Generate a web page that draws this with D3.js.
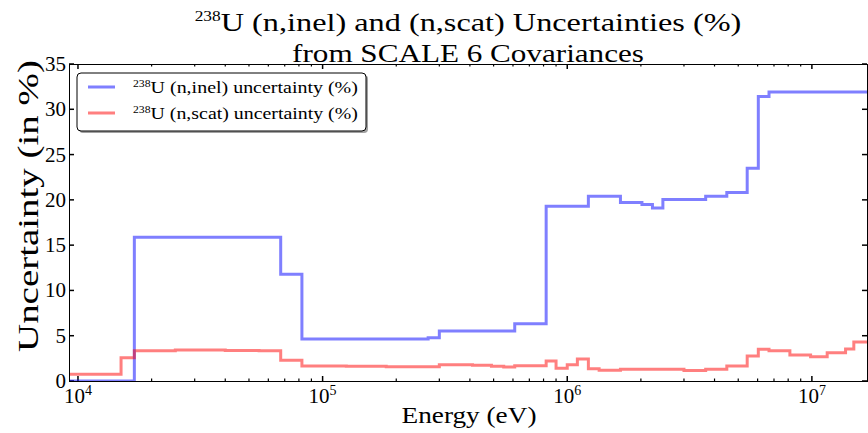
<!DOCTYPE html>
<meta charset="utf-8">
<style>

body {
  margin: 0;
  background: #fff;
}

text {
  font-family: "Liberation Serif", serif;
  fill: #000;
}

.tick-label {
  font-size: 21px;
}

.legend text {
  font-size: 17px;
}

</style>
<body>
<svg width="868" height="433"></svg>
</body>

<script src="https://d3js.org/d3.v7.min.js"></script>
<script>

// energy group boundaries (eV) and uncertainty (%)
var inelEdges = [9000, 1.7e4, 6.74e4, 8.23e4, 2.7e5, 3.0e5, 6.1e5, 8.2e5, 1.22e6, 1.65e6,
                 2.02e6, 2.23e6, 2.46e6, 3.68e6, 4.49e6, 5.44e6, 6.04e6, 6.68e6];
var inelValues = [0, 15.86, 11.78, 4.63, 4.78, 5.52, 6.33, 19.3, 20.4, 19.7,
                  19.5, 19.1, 20.05, 20.4, 20.8, 23.5, 31.4, 31.9];

var scatEdges = [9000, 1.5e4, 1.7e4, 2.5e4, 4.0e4, 5.5e4, 6.74e4, 8.23e4, 1.25e5, 1.82e5,
                 3.0e5, 4.1e5, 4.9e5, 5.5e5, 6.1e5, 8.2e5, 9.0e5, 1.0e6, 1.1e6, 1.22e6,
                 1.35e6, 1.65e6, 3.0e6, 3.68e6, 4.49e6, 5.44e6, 6.04e6, 6.68e6, 8.13e6, 9.88e6,
                 1.155e7, 1.373e7, 1.484e7];
var scatValues = [0.74, 2.57, 3.35, 3.42, 3.38, 3.35, 2.28, 1.66, 1.62, 1.58,
                  1.8, 1.73, 1.62, 1.55, 1.69, 2.2, 1.4, 1.8, 2.43, 1.35,
                  1.2, 1.3, 1.15, 1.3, 1.66, 2.76, 3.5, 3.35, 2.87, 2.68,
                  3.12, 3.53, 4.3];

var upperEdge = 2e7;
var xDomain = [9190, 1.68e7];
var yDomain = [0, 35];
var yTicks = [0, 5, 10, 15, 20, 25, 30, 35];
var xMajor = [1e4, 1e5, 1e6, 1e7];
var xExponents = ["4", "5", "6", "7"];

var series = [
  {name: "(n,inel) uncertainty (%)", edges: inelEdges, values: inelValues, color: "blue"},
  {name: "(n,scat) uncertainty (%)", edges: scatEdges, values: scatValues, color: "red"}
];

var svg = d3.select("svg"),
    margin = {top: 64, right: 1, bottom: 52, left: 69},
    width = +svg.attr("width") - margin.left - margin.right,
    height = +svg.attr("height") - margin.top - margin.bottom;

var x = d3.scaleLog().domain(xDomain).range([0, width]);
var y = d3.scaleLinear().domain(yDomain).range([height, 0]);

var g = svg.append("g")
    .attr("transform", "translate(" + margin.left + "," + margin.top + ")");

g.append("clipPath").attr("id", "clip")
  .append("rect").attr("width", width).attr("height", height);

var minor = [];
for (var p = 3; p <= 7; p++)
  for (var k = 2; k <= 9; k++) {
    var v = k * Math.pow(10, p);
    if (v > xDomain[0] && v < xDomain[1]) minor.push(v);
  }

// inward ticks on all four sides
function ticksX(sel, dir) {
  sel.selectAll(".maj").data(xMajor).enter().append("line")
      .attr("x1", x).attr("x2", x).attr("y1", 0).attr("y2", dir * 5)
      .attr("stroke", "#000").attr("stroke-width", 1.5);
  sel.selectAll(".min").data(minor).enter().append("line")
      .attr("x1", x).attr("x2", x).attr("y1", 0).attr("y2", dir * 2.5)
      .attr("stroke", "#000").attr("stroke-width", 1.2);
}
function ticksY(sel, dir) {
  sel.selectAll("line").data(yTicks).enter().append("line")
      .attr("y1", y).attr("y2", y).attr("x1", 0).attr("x2", dir * 5)
      .attr("stroke", "#000").attr("stroke-width", 1.5);
}

ticksX(g.append("g").attr("transform", "translate(0," + height + ")"), -1);
ticksX(g.append("g"), 1);
ticksY(g.append("g"), 1);
ticksY(g.append("g").attr("transform", "translate(" + width + ",0)"), -1);

var line = d3.line()
    .x(function(d) { return x(d[0]); })
    .y(function(d) { return y(d[1]); })
    .curve(d3.curveStepAfter);

series.forEach(function(s) {
  var pts = s.edges.map(function(e, i) { return [e, s.values[i]]; });
  pts.push([upperEdge, s.values[s.values.length - 1]]);
  g.append("path")
      .datum(pts)
      .attr("clip-path", "url(#clip)")
      .attr("fill", "none")
      .attr("stroke", s.color)
      .attr("stroke-opacity", 0.5)
      .attr("stroke-width", 3)
      .attr("d", line);
});

// frame
g.append("rect")
    .attr("width", width).attr("height", height)
    .attr("fill", "none").attr("stroke", "#000").attr("stroke-width", 1)
    .style("shape-rendering", "crispEdges");

// y tick labels
g.selectAll(".ylab").data(yTicks).enter().append("text")
    .attr("class", "tick-label")
    .attr("x", -3).attr("y", function(d) { return y(d) + 7; })
    .attr("text-anchor", "end")
    .text(function(d) { return d; });

// x tick labels 10^n
var xl = g.selectAll(".xlab").data(xMajor).enter().append("text")
    .attr("class", "tick-label")
    .attr("x", x).attr("y", height + 22)
    .attr("text-anchor", "middle");
xl.append("tspan").text("10");
xl.append("tspan").attr("dy", -8).style("font-size", "14px")
    .text(function(d, i) { return xExponents[i]; });

// the original used a wide schoolbook face; stretch the serif text to its width
function stretch(grp, target) {
  var t = grp.select("text").node();
  var w = t.getBBox().width;
  grp.attr("transform", grp.attr("transform") + " scale(" + (target / w) + ",1)");
}

var cx = margin.left + width / 2;

var t1 = svg.append("g").attr("transform", "translate(" + cx + ",31)");
var tt = t1.append("text").attr("text-anchor", "middle").style("font-size", "26px");
tt.append("tspan").style("font-size", "14px").attr("dy", -10).text("238");
tt.append("tspan").attr("dy", 10).text("U (n,inel) and (n,scat) Uncertainties (%)");
stretch(t1, 547);

var t2 = svg.append("g").attr("transform", "translate(" + cx + ",62)");
t2.append("text").attr("text-anchor", "middle").style("font-size", "26px")
    .text("from SCALE 6 Covariances");
stretch(t2, 352);

// axis labels
var xlab = svg.append("g").attr("transform", "translate(469,423)");
xlab.append("text").attr("text-anchor", "middle").style("font-size", "24px")
    .text("Energy (eV)");
stretch(xlab, 135);

var ylab = svg.append("g").attr("transform", "translate(38,206) rotate(-90)");
ylab.append("text").attr("text-anchor", "middle").style("font-size", "29px")
    .text("Uncertainty (in %)");
stretch(ylab, 292);

// legend
var legend = svg.append("g").attr("class", "legend")
    .attr("transform", "translate(77,73)");
legend.append("rect")
    .attr("x", 2).attr("y", 2).attr("width", 289).attr("height", 58).attr("rx", 4)
    .attr("fill", "#444").attr("fill-opacity", 0.5);
legend.append("rect")
    .attr("width", 289).attr("height", 58).attr("rx", 4)
    .attr("fill", "#fff").attr("stroke", "#000").attr("stroke-width", 1);

var item = legend.selectAll(".item").data(series).enter().append("g")
    .attr("transform", function(d, i) { return "translate(0," + (14 + i * 26) + ")"; });
item.append("line")
    .attr("x1", 11).attr("x2", 38).attr("y1", 0).attr("y2", 0)
    .attr("stroke", function(d) { return d.color; })
    .attr("stroke-opacity", 0.5).attr("stroke-width", 3);
item.each(function(d) {
  var lg = d3.select(this).append("g").attr("transform", "translate(56,6)");
  var it = lg.append("text");
  it.append("tspan").style("font-size", "10px").attr("dy", -6).text("238");
  it.append("tspan").attr("dy", 6).text("U " + d.name);
  stretch(lg, 225);
});

</script>
